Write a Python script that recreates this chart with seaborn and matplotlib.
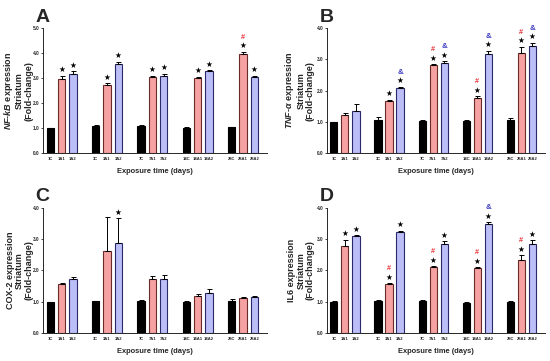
import numpy as np
import pandas as pd
import matplotlib
matplotlib.use("Agg")
import matplotlib.pyplot as plt
import seaborn as sns

sns.set_style("ticks")
plt.rcParams['font.family'] = ['Liberation Sans', 'DejaVu Sans']
plt.rcParams['mathtext.fontset'] = 'custom'
plt.rcParams['mathtext.it'] = 'Liberation Sans:italic:bold'
plt.rcParams['mathtext.rm'] = 'Liberation Sans:bold'

# dados
days = ['1', '3', '7', '14', '28']
kinds = ['C', 'A1', 'A2']

nfkb_val = [1.00, 2.97, 3.15, 1.08, 2.74, 3.56, 1.07, 3.06, 3.08, 1.01, 3.00, 3.28, 1.03, 3.95, 3.05]
nfkb_err = [0.02, 0.12, 0.13, 0.03, 0.05, 0.09, 0.04, 0.03, 0.10, 0.04, 0.05, 0.03, 0.02, 0.10, 0.05]
nfkb_marks = ['', '*', '*', '', '*', '*', '', '*', '*', '', '*', '*', '', '*#', '*']

tnf_val = [0.99, 1.23, 1.36, 1.06, 1.66, 2.08, 1.03, 2.82, 2.87, 1.03, 1.75, 3.17, 1.06, 3.20, 3.44]
tnf_err = [0.02, 0.05, 0.20, 0.08, 0.05, 0.05, 0.02, 0.03, 0.07, 0.02, 0.07, 0.10, 0.05, 0.20, 0.10]
tnf_marks = ['', '', '', '', '*', '*&', '', '*#', '*&', '', '*#', '*&', '', '*#', '*&']

cox_val = [0.98, 1.57, 1.73, 1.01, 2.63, 2.87, 1.03, 1.74, 1.74, 0.98, 1.19, 1.27, 1.02, 1.12, 1.15]
cox_err = [0.02, 0.03, 0.07, 0.02, 1.07, 0.80, 0.03, 0.07, 0.12, 0.05, 0.06, 0.12, 0.07, 0.02, 0.03]
cox_marks = ['', '', '', '', '', '*', '', '', '', '', '', '', '', '', '']

il6_val = [0.99, 2.78, 3.10, 1.02, 1.55, 3.22, 1.01, 2.11, 2.86, 0.97, 2.08, 3.47, 0.99, 2.34, 2.86]
il6_err = [0.02, 0.20, 0.03, 0.02, 0.04, 0.05, 0.05, 0.02, 0.08, 0.02, 0.02, 0.07, 0.02, 0.15, 0.10]
il6_marks = ['', '*', '*', '', '*#', '*', '', '*#', '*', '', '*#', '*&', '', '*#', '*']

cores = {'C': '#000000', 'A1': '#f6a2a2', 'A2': '#bcbef8'}
bordas = {'C': '#000000', 'A1': '#6b2a2a', 'A2': '#2a2a6b'}
simbolos = {'*': ('\u2605', 'black', 5.5), '#': ('#', '#e8383d', 5.2), '&': ('&', '#3b3bc4', 5.7)}

paineis = [
    ('A', '$NF$-$kB$ expression\nStriatum\n(Fold-change)', nfkb_val, nfkb_err, nfkb_marks, 5.0,
     [0.079, 0.576, 0.406, 0.346], -0.045),
    ('B', '$TNF$-$\\alpha$ expression\nStriatum\n(Fold-change)', tnf_val, tnf_err, tnf_marks, 4.0,
     [0.595, 0.576, 0.395, 0.346], -0.058),
    ('C', 'COX-2 expression\nStriatum\n(Fold-change)', cox_val, cox_err, cox_marks, 4.0,
     [0.079, 0.078, 0.406, 0.346], -0.045),
    ('D', 'IL6 expression\nStriatum\n(Fold-change)', il6_val, il6_err, il6_marks, 4.0,
     [0.595, 0.078, 0.395, 0.346], -0.058),
]

fig = plt.figure(figsize=(5.5, 3.61), dpi=100)

for letra, ylab, vals, errs, marks, ymax, rect, labx in paineis:
    ax = fig.add_axes(rect)
    rotulos, tipos, pos = [], [], []
    for g, d in enumerate(days):
        for i, k in enumerate(kinds):
            rotulos.append(d + k)
            tipos.append(k)
            pos.append(g * 4 + i)
    df = pd.DataFrame({'pos': pos, 'val': vals, 'err': errs, 'kind': tipos, 'lab': rotulos})

    sns.barplot(data=df, x='pos', y='val', hue='kind', hue_order=kinds, palette=cores,
                native_scale=True, dodge=False, width=0.65, errorbar=None, saturation=1,
                linewidth=0.8, legend=False, ax=ax)
    # bordas conforme o grupo
    for p in ax.patches:
        cx = int(round(p.get_x() + p.get_width() / 2))
        p.set_edgecolor(bordas[kinds[cx % 4]] if cx % 4 < 3 else 'black')

    ax.errorbar(df['pos'], df['val'], yerr=[np.zeros(len(df)), df['err']], fmt='none',
                ecolor='black', elinewidth=0.7, capsize=1.8, capthick=0.7)

    # marcas de significancia
    for x, v, e, m in zip(df['pos'], df['val'], df['err'], marks):
        y = v + e + ymax * 0.012
        for s in m:
            txt, c, fs = simbolos[s]
            ax.text(x, y, txt, ha='center', va='bottom', color=c, fontsize=fs, fontweight='bold',
                    family=['DejaVu Sans'] if s == '*' else ['Liberation Sans'])
            y += ymax * 0.075

    ax.set_xlim(-0.6, 19.1)
    ax.set_ylim(0, ymax)
    ax.set_yticks(np.arange(0, ymax + 0.01, 1.0))
    ax.set_yticklabels(['%.1f' % t for t in np.arange(0, ymax + 0.01, 1.0)],
                       fontsize=3.4, fontweight='bold')
    ax.set_xticks(df['pos'])
    ax.set_xticklabels(df['lab'], fontsize=3.0, fontweight='bold')
    ax.tick_params(axis='x', length=0, pad=3)
    ax.tick_params(axis='y', length=1.8, width=0.6, pad=1.0)
    for sp in ['left', 'bottom']:
        ax.spines[sp].set_linewidth(0.7)
    sns.despine(ax=ax)
    ax.set_xlabel('Exposure time (days)', fontsize=5.4, fontweight='bold', labelpad=5)
    ax.set_ylabel(ylab, fontsize=6.5, fontweight='bold', linespacing=1.05)
    ax.yaxis.set_label_coords(labx, 0.5)
    ax.text(-0.035, 1.02, letra, transform=ax.transAxes, fontsize=14, fontweight='bold',
            ha='left', va='bottom')

fig.savefig('out.png', dpi=100)
